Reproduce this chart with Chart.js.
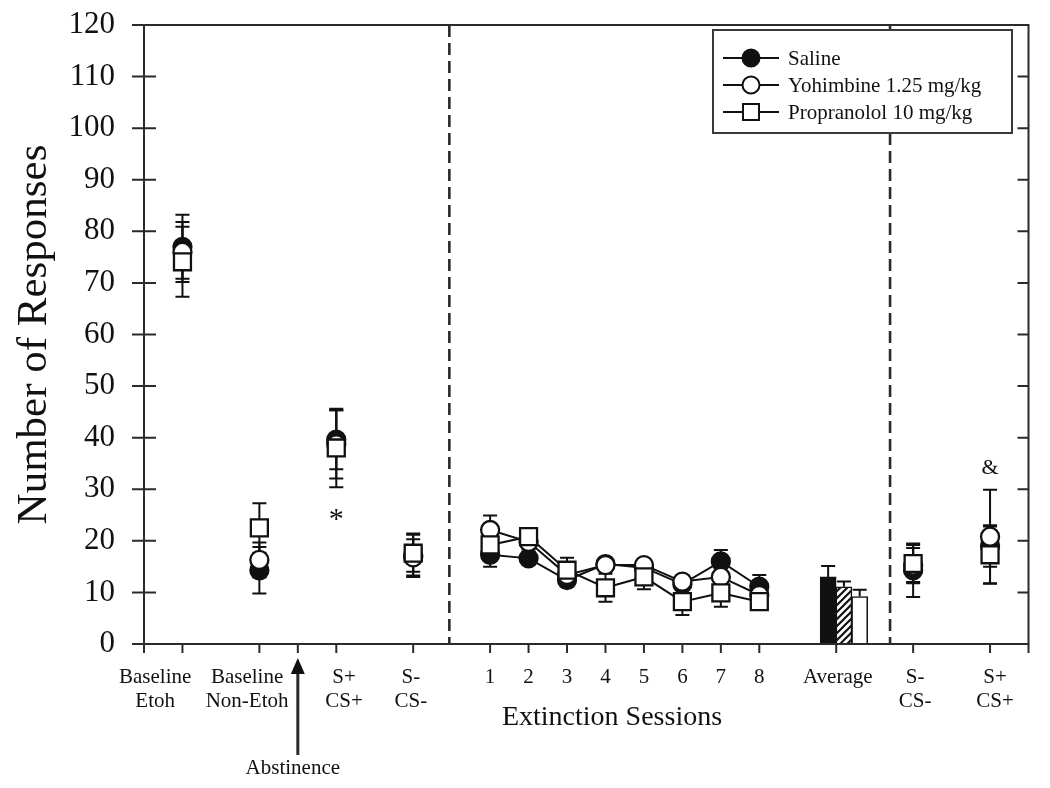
<!DOCTYPE html>
<html>
<head>
<meta charset="utf-8">
<script src="https://cdn.jsdelivr.net/npm/chart.js@4/dist/chart.umd.min.js"></script>
<style>
  html, body { margin: 0; padding: 0; background: #fff; }
  #wrap { width: 1050px; height: 788px; position: relative; }
</style>
</head>
<body>
<div id="wrap"><canvas id="c"></canvas></div>
<script>
// ---------- DATA ----------
const groupX = [1, 3, 5, 7, 20, 22];           // Baseline Etoh, Baseline Non-Etoh, S+CS+, S-CS-, test S-CS-, test S+CS+
const sessionX = [9, 10, 11, 12, 13, 14, 15, 16]; // extinction sessions 1..8
const averageX = [17.79, 18.2, 18.61];

const salineGroup      = [77.0, 14.3, 39.6, 17.2, 14.3, 19.0];
const salineGroupErr   = [6.2, 4.5, 5.7, 4.2, 5.2, 4.0];
const salineSessions   = [17.3, 16.6, 12.4, 15.5, 14.8, 11.6, 16.0, 11.1];
const salineSessErr    = [2.3, 1.2, 1.2, 0.8, 1.0, 1.0, 2.2, 2.3];

const yohGroup         = [76.0, 16.3, 38.7, 16.8, 15.2, 20.8];
const yohGroupErr      = [5.8, 3.4, 6.6, 3.5, 3.4, 9.1];
const yohSessions      = [22.1, 19.8, 13.4, 15.3, 15.3, 12.1, 13.0, 9.5];
const yohSessErr       = [2.8, 1.5, 1.5, 1.0, 1.0, 1.2, 1.8, 1.5];

const propGroup        = [74.1, 22.5, 38.0, 17.6, 15.6, 17.3];
const propGroupErr     = [6.8, 4.8, 7.6, 3.6, 3.6, 5.5];
const propSessions     = [19.2, 20.8, 14.3, 10.9, 13.0, 8.2, 9.9, 8.2];
const propSessErr      = [2.0, 1.5, 2.4, 2.7, 2.4, 2.6, 2.7, 1.4];

const averageValues    = [13.0, 11.1, 9.2];   // Saline, Yohimbine, Propranolol
const averageErr       = [2.1, 1.0, 1.3];

const seriesNames = ['Saline', 'Yohimbine 1.25 mg/kg', 'Propranolol 10 mg/kg'];

const xLabelPos = [0.29, 2.68, 5.2, 6.94, 9, 10, 11, 12, 13, 14, 15, 16, 18.04, 20.05, 22.13];
const xLabels = [['Baseline', 'Etoh'], ['Baseline', 'Non-Etoh'], ['S+', 'CS+'], ['S-', 'CS-'],
  '1', '2', '3', '4', '5', '6', '7', '8', 'Average', ['S-', 'CS-'], ['S+', 'CS+']];
const xTickMarks = [0, 1, 3, 4, 5, 7, 9, 10, 11, 12, 13, 14, 15, 16, 18, 20, 22, 23];
const dividerX = [7.94, 19.4];
const yTicks = [0, 10, 20, 30, 40, 50, 60, 70, 80, 90, 100, 110, 120];

// ---------- helpers ----------
const SERIF = "'Liberation Serif', 'DejaVu Serif', serif";
const INK = '#111111';
const pts = (xs, ys) => xs.map((x, i) => ({ x: x, y: ys[i] }));

function hatchPattern() {
  const c = document.createElement('canvas');
  c.width = 7; c.height = 7;
  const g = c.getContext('2d');
  g.fillStyle = '#fff'; g.fillRect(0, 0, 7, 7);
  g.strokeStyle = '#111'; g.lineWidth = 2.2;
  g.beginPath();
  g.moveTo(-1, 8); g.lineTo(8, -1);
  g.moveTo(-4.5, 4.5); g.lineTo(4.5, -4.5);
  g.moveTo(2.5, 11.5); g.lineTo(11.5, 2.5);
  g.stroke();
  return g.createPattern(c, 'repeat');
}

const ctx0 = document.getElementById('c').getContext('2d');
const hatch = hatchPattern();

const pointBase = { showLine: false, borderColor: INK, borderWidth: 2, pointBorderWidth: 2.3, pointBorderColor: INK };
const lineBase  = { showLine: true, borderColor: INK, borderWidth: 2, pointBorderWidth: 2.3, pointBorderColor: INK, tension: 0, fill: false };

const datasets = [
  // Saline (drawn lowest)
  Object.assign({ label: 'Saline groups', data: pts(groupX, salineGroup), errors: salineGroupErr,
    pointStyle: 'circle', pointRadius: 9, pointBackgroundColor: INK, order: 6 }, pointBase),
  Object.assign({ label: 'Saline sessions', data: pts(sessionX, salineSessions), errors: salineSessErr,
    pointStyle: 'circle', pointRadius: 9, pointBackgroundColor: INK, order: 5 }, lineBase),
  // Yohimbine
  Object.assign({ label: 'Yoh groups', data: pts(groupX, yohGroup), errors: yohGroupErr,
    pointStyle: 'circle', pointRadius: 9, pointBackgroundColor: '#fff', order: 4 }, pointBase),
  Object.assign({ label: 'Yoh sessions', data: pts(sessionX, yohSessions), errors: yohSessErr,
    pointStyle: 'circle', pointRadius: 9, pointBackgroundColor: '#fff', order: 3 }, lineBase),
  // Propranolol (top)
  Object.assign({ label: 'Prop groups', data: pts(groupX, propGroup), errors: propGroupErr,
    pointStyle: 'rect', pointRadius: 12, pointBackgroundColor: '#fff', order: 2 }, pointBase),
  Object.assign({ label: 'Prop sessions', data: pts(sessionX, propSessions), errors: propSessErr,
    pointStyle: 'rect', pointRadius: 12, pointBackgroundColor: '#fff', order: 1 }, lineBase),
  // Average bars
  { type: 'bar', label: 'Average', data: pts(averageX, averageValues), errors: averageErr, upOnly: true,
    backgroundColor: [INK, hatch, '#fff'], borderColor: INK, borderWidth: 1.5, barThickness: 16,
    grouped: false, order: 7 }
];

const decor = {
  id: 'decor',
  beforeDatasetsDraw(chart) {
    const ctx = chart.ctx, xs = chart.scales.x, ys = chart.scales.y, a = chart.chartArea;
    // dashed dividers
    ctx.save();
    ctx.strokeStyle = '#2a2a2a'; ctx.lineWidth = 2.6; ctx.setLineDash([12, 6]);
    dividerX.forEach(v => {
      const px = xs.getPixelForValue(v);
      ctx.beginPath(); ctx.moveTo(px, a.top); ctx.lineTo(px, a.bottom); ctx.stroke();
    });
    ctx.restore();
    // error bars
    ctx.save();
    ctx.strokeStyle = INK; ctx.lineWidth = 2;
    chart.data.datasets.forEach((ds, i) => {
      if (!ds.errors) return;
      const meta = chart.getDatasetMeta(i);
      meta.data.forEach((el, j) => {
        const v = ds.data[j].y, e = ds.errors[j];
        const x = el.x;
        const yTop = ys.getPixelForValue(v + e);
        const yBot = ds.upOnly ? ys.getPixelForValue(v) : ys.getPixelForValue(v - e);
        ctx.beginPath();
        ctx.moveTo(x, yTop); ctx.lineTo(x, yBot);
        ctx.moveTo(x - 7, yTop); ctx.lineTo(x + 7, yTop);
        if (!ds.upOnly) { ctx.moveTo(x - 7, yBot); ctx.lineTo(x + 7, yBot); }
        ctx.stroke();
      });
    });
    ctx.restore();
  },
  afterDraw(chart) {
    const ctx = chart.ctx, xs = chart.scales.x, ys = chart.scales.y, a = chart.chartArea;
    ctx.save();
    // frame
    ctx.strokeStyle = '#2a2a2a'; ctx.lineWidth = 2;
    ctx.strokeRect(a.left, a.top, a.right - a.left, a.bottom - a.top);
    // y ticks (crossing left, inward right)
    ctx.beginPath();
    yTicks.forEach(v => {
      const py = ys.getPixelForValue(v);
      ctx.moveTo(a.left - 12, py); ctx.lineTo(a.left + 12, py);
      ctx.moveTo(a.right - 11, py); ctx.lineTo(a.right, py);
    });
    // x ticks (outward)
    xTickMarks.forEach(v => {
      const px = xs.getPixelForValue(v);
      ctx.moveTo(px, a.bottom); ctx.lineTo(px, a.bottom + 9);
    });
    ctx.stroke();

    // annotations
    ctx.fillStyle = INK;
    ctx.textAlign = 'center'; ctx.textBaseline = 'middle';
    ctx.font = '30px ' + SERIF;
    ctx.fillText('*', xs.getPixelForValue(5), ys.getPixelForValue(25.5) + 8);
    ctx.font = '22px ' + SERIF;
    ctx.fillText('&', xs.getPixelForValue(22), ys.getPixelForValue(34.1));

    // x axis title
    ctx.font = '28px ' + SERIF;
    ctx.fillText('Extinction Sessions', xs.getPixelForValue(12.17), a.bottom + 74);

    // Abstinence arrow
    const ax = xs.getPixelForValue(4);
    ctx.lineWidth = 3;
    ctx.beginPath(); ctx.moveTo(ax, 755); ctx.lineTo(ax, 668); ctx.stroke();
    ctx.beginPath(); ctx.moveTo(ax, a.bottom + 14); ctx.lineTo(ax - 7, a.bottom + 30); ctx.lineTo(ax + 7, a.bottom + 30); ctx.closePath(); ctx.fill();
    ctx.font = '21px ' + SERIF;
    ctx.fillText('Abstinence', ax - 5, 768);

    // legend box
    const lx = 713, ly = 30, lw = 299, lh = 103;
    ctx.fillStyle = '#fff'; ctx.fillRect(lx, ly, lw, lh);
    ctx.strokeStyle = '#3a3a3a'; ctx.lineWidth = 2; ctx.strokeRect(lx, ly, lw, lh);
    const rows = [58, 85, 112];
    rows.forEach((ry, i) => {
      ctx.strokeStyle = INK; ctx.lineWidth = 2;
      ctx.beginPath(); ctx.moveTo(723, ry); ctx.lineTo(779, ry); ctx.stroke();
      ctx.beginPath();
      if (i < 2) {
        ctx.arc(751, ry, 8.5, 0, Math.PI * 2);
        ctx.fillStyle = i === 0 ? INK : '#fff';
        ctx.fill(); ctx.stroke();
      } else {
        ctx.rect(743, ry - 8, 16, 16);
        ctx.fillStyle = '#fff'; ctx.fill(); ctx.stroke();
      }
      ctx.fillStyle = INK; ctx.textAlign = 'left'; ctx.textBaseline = 'middle';
      ctx.font = '21px ' + SERIF;
      ctx.fillText(seriesNames[i], 788, ry + 1);
    });
    ctx.restore();
  }
};

new Chart(ctx0, {
  type: 'scatter',
  data: { datasets: datasets },
  options: {
    responsive: true,
    maintainAspectRatio: false,
    animation: false,
    events: [],
    layout: { padding: { left: 0, right: 21.5, top: 25, bottom: 0 } },
    plugins: { legend: { display: false }, tooltip: { enabled: false } },
    scales: {
      x: {
        type: 'linear', min: 0, max: 23, offset: false,
        grid: { display: false, drawTicks: false },
        border: { display: false },
        afterBuildTicks: (s) => { s.ticks = xLabelPos.map(v => ({ value: v })); },
        afterFit: (s) => { s.height = 144; s.paddingLeft = 0; s.paddingRight = 0; },
        ticks: {
          autoSkip: false, maxRotation: 0, minRotation: 0, padding: 21,
          color: INK, font: { family: SERIF, size: 21, lineHeight: 1.15 },
          callback: (val, idx) => xLabels[idx]
        }
      },
      y: {
        type: 'linear', min: 0, max: 120,
        grid: { display: false, drawTicks: false },
        border: { display: false },
        afterBuildTicks: (s) => { s.ticks = yTicks.map(v => ({ value: v })); },
        afterFit: (s) => { s.width = 144; s.paddingTop = 0; s.paddingBottom = 0; },
        ticks: { padding: 29, color: INK, font: { family: SERIF, size: 31 } },
        title: { display: true, text: 'Number of Responses', color: INK,
          font: { family: SERIF, size: 43 }, padding: { top: 9, bottom: 0 } }
      }
    }
  },
  plugins: [decor]
});
</script>
</body>
</html>
